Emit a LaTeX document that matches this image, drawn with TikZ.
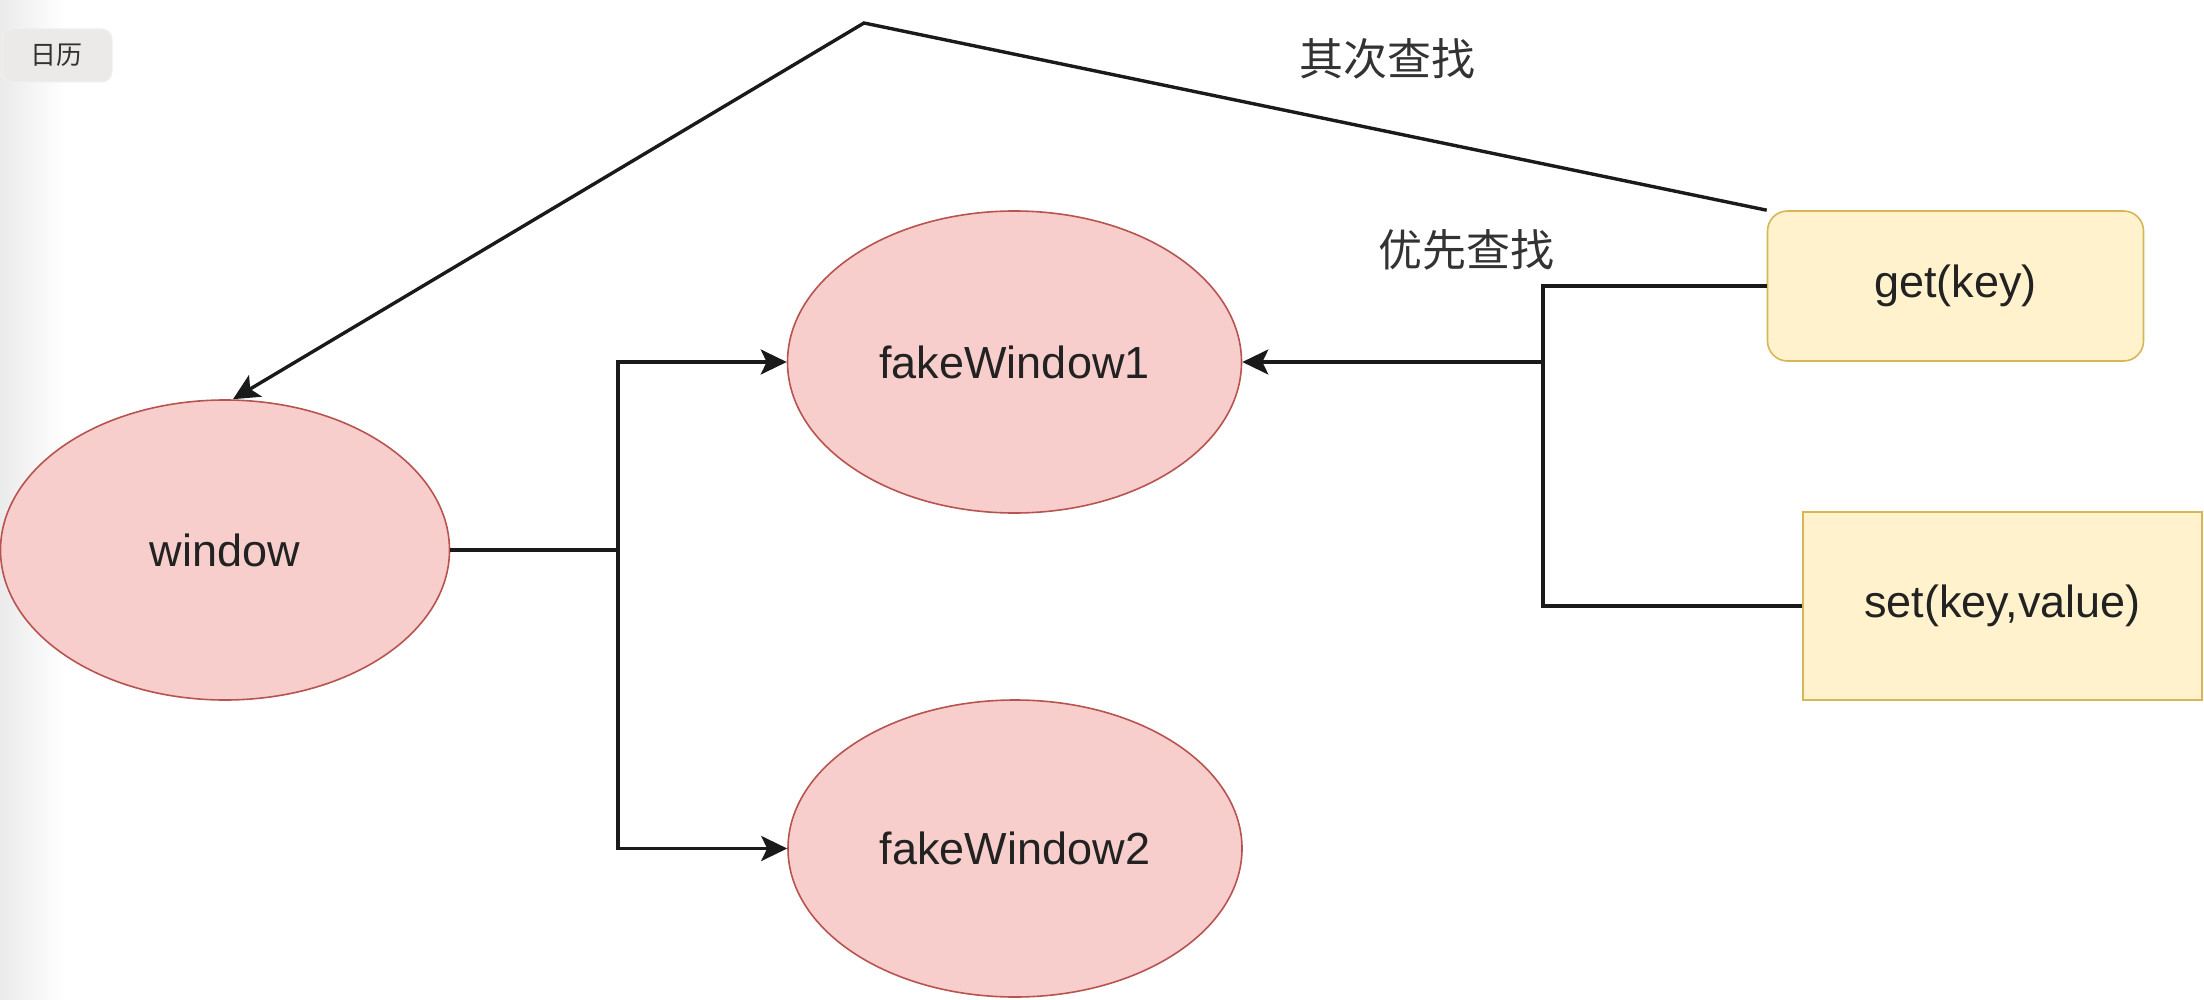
\documentclass[tikz,border=0pt]{standalone}
\usepackage{fontspec}
\setmainfont{Liberation Sans}
\newfontfamily\cjk{Noto Sans CJK SC}
\usetikzlibrary{arrows.meta,shapes.geometric}
\definecolor{redfill}{HTML}{F8CECC}
\definecolor{redline}{HTML}{B85450}
\definecolor{yelfill}{HTML}{FFF2CC}
\definecolor{yelline}{HTML}{D6B656}
\definecolor{txt}{HTML}{222222}
\definecolor{lbl}{HTML}{333333}
\definecolor{edge}{HTML}{1A1A1A}
\definecolor{btnfill}{HTML}{EBEAE9}
\begin{document}
\begin{tikzpicture}[x=0.5pt,y=-0.5pt,
  elnode/.style={ellipse,draw=redline,fill=redfill,line width=0.8pt,inner sep=0pt,
    text=txt,font=\fontsize{22.5}{27}\selectfont},
  boxnode/.style={rectangle,draw=yelline,fill=yelfill,line width=0.8pt,inner sep=0pt,
    text=txt,font=\fontsize{22.5}{27}\selectfont},
  conn/.style={draw=edge,line width=1.7pt},
  arr/.style={conn,-{Stealth[length=13pt,width=12.5pt,inset=3pt]}},
  cjklabel/.style={text=lbl,font=\cjk\fontsize{22}{26}\selectfont,inner sep=0pt}]
\path[use as bounding box] (0,0) rectangle (2204,1000);
\fill[white] (0,0) rectangle (2204,1000);
\shade[left color=black!8,right color=white] (0,0) rectangle (65,1000);

% button
\node[rectangle,rounded corners=5pt,fill=btnfill,draw=black!6,line width=0.5pt,
  minimum width=55pt,minimum height=26.5pt,inner sep=0pt,text=lbl,
  font=\cjk\fontsize{13}{15}\selectfont] (btn) at (57,55.5) {日历};

% ellipses
\node[elnode,minimum width=224.5pt,minimum height=150pt] (window) at (225,550) {window};
\node[elnode,minimum width=227pt,minimum height=151pt] (fw1) at (1014.5,362) {fakeWindow1};
\node[elnode,minimum width=227pt,minimum height=148.5pt] (fw2) at (1015,848.5) {fakeWindow2};

% boxes
\node[boxnode,rounded corners=10pt,minimum width=188pt,minimum height=75pt] (get) at (1955.5,286) {get(key)};
\node[boxnode,minimum width=199.5pt,minimum height=94pt] (set) at (2002.5,606) {set(key,value)};

% junction coordinates
\coordinate (lj) at (618,550);
\coordinate (rj) at (1543,362);
\coordinate (peak) at (864,23);

% window to fake windows
\draw[conn] (window.east) -- (lj);
\draw[arr] (lj) |- (fw1.west);
\draw[arr] (lj) |- (fw2.west);

% get / set to fakeWindow1
\draw[conn] (get.west) -| (rj);
\draw[conn] (set.west) -| (rj);
\draw[arr] (rj) -- (fw1.east);

% secondary lookup to window
\draw[arr,line join=miter] (get.north west) -- (peak) -- ([xshift=4pt]window.north);

% labels
\node[cjklabel] (l2) at (1387,59) {其次查找};
\node[cjklabel] (l1) at (1466,250) {优先查找};
\end{tikzpicture}
\end{document}
